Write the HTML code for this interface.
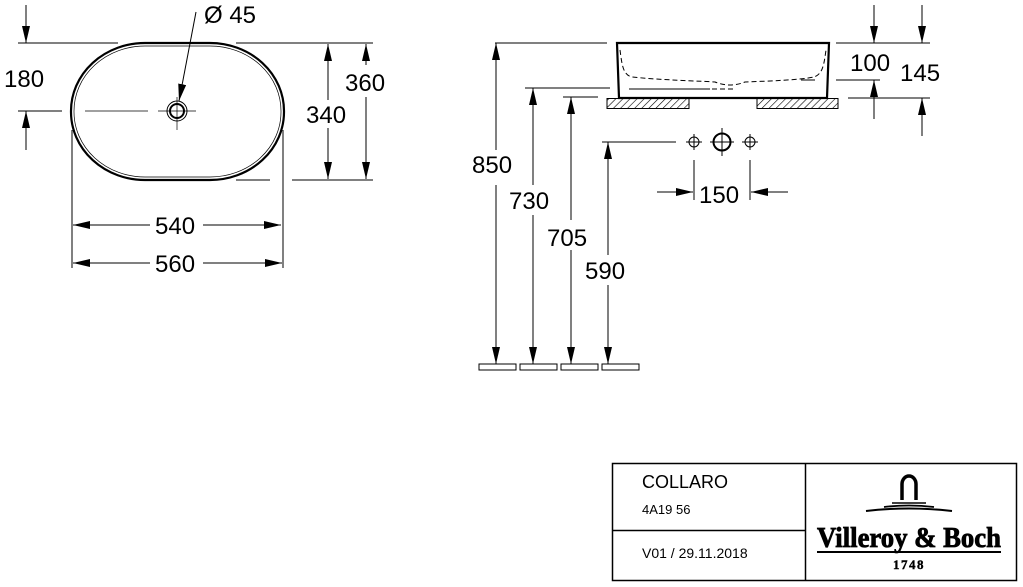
<!DOCTYPE html>
<html><head><meta charset="utf-8"><style>
html,body{margin:0;padding:0;background:#fff;}
svg{display:block;}
text{font-family:"Liberation Sans",Arial,sans-serif;fill:#000;}
</style></head><body>
<svg width="1023" height="587" viewBox="0 0 1023 587" xmlns="http://www.w3.org/2000/svg">
<defs>
<marker id="b" markerWidth="18" markerHeight="8" refX="17" refY="4" orient="auto-start-reverse" markerUnits="userSpaceOnUse">
<path d="M0,0 L17,4 L0,8 Z" fill="#000"/>
</marker>
<pattern id="h" width="5" height="5" patternUnits="userSpaceOnUse" patternTransform="rotate(45)">
<line x1="0" y1="0" x2="0" y2="5" stroke="#000" stroke-width="1.2"/>
</pattern>
</defs>
<g stroke="#000" stroke-width="1" fill="none">
<rect x="71" y="43" width="213" height="137" rx="74" ry="68" stroke-width="2.2"/>
<rect x="74" y="46" width="207" height="131" rx="71" ry="65" stroke-width="0.7"/>
<circle cx="177" cy="111" r="10" stroke-width="1"/>
<circle cx="177" cy="111" r="7" stroke-width="2"/>
<line x1="158" y1="111" x2="196" y2="111" stroke-width="0.7"/>
<line x1="177" y1="97" x2="177" y2="130" stroke-width="0.7"/>
<line x1="85" y1="111" x2="148" y2="111" stroke-width="0.8"/>
<line x1="18" y1="111" x2="62" y2="111"/>
<line x1="18" y1="43" x2="118" y2="43"/>
<line x1="26" y1="5" x2="26" y2="43" marker-end="url(#b)"/>
<line x1="26" y1="150" x2="26" y2="111" marker-end="url(#b)"/>
<line x1="196" y1="12" x2="179" y2="101" marker-end="url(#b)"/>
<line x1="236" y1="43" x2="373" y2="43"/>
<line x1="236" y1="180" x2="270" y2="180"/>
<line x1="292" y1="180" x2="373" y2="180"/>
<line x1="328" y1="100" x2="328" y2="44" marker-end="url(#b)"/>
<line x1="328" y1="128" x2="328" y2="179" marker-end="url(#b)"/>
<line x1="366" y1="65" x2="366" y2="44" marker-end="url(#b)"/>
<line x1="366" y1="97" x2="366" y2="179" marker-end="url(#b)"/>
<line x1="72" y1="130" x2="72" y2="268"/>
<line x1="283" y1="130" x2="283" y2="268"/>
<line x1="150" y1="225" x2="73" y2="225" marker-end="url(#b)"/>
<line x1="203" y1="225" x2="281" y2="225" marker-end="url(#b)"/>
<line x1="150" y1="263" x2="73" y2="263" marker-end="url(#b)"/>
<line x1="203" y1="263" x2="282" y2="263" marker-end="url(#b)"/>
<path d="M617,43 L829,43 L827,98 L619,98 Z" stroke-width="2.2"/>
<path d="M620,50 C622,65 623,75 632,77 C660,80 700,81 715,82 C725,86 735,86 745,82 C770,81 800,80 814,77 C823,74 824,64 826,50" stroke-dasharray="5,3" stroke-width="1"/>
<line x1="629" y1="89" x2="710" y2="89"/>
<line x1="712" y1="89" x2="733" y2="89" stroke-dasharray="5,3"/>
<line x1="801" y1="80" x2="815" y2="80"/>
<rect x="607" y="98.5" width="82" height="10" fill="url(#h)"/>
<rect x="757" y="98.5" width="81" height="10" fill="url(#h)"/>
<line x1="495" y1="43" x2="607" y2="43"/>
<line x1="525" y1="88" x2="610" y2="88"/>
<line x1="563" y1="97" x2="598" y2="97"/>
<line x1="602" y1="142" x2="676" y2="142"/>
<line x1="496" y1="150" x2="496" y2="43" marker-end="url(#b)"/>
<line x1="496" y1="185" x2="496" y2="364" marker-end="url(#b)"/>
<line x1="533" y1="185" x2="533" y2="88" marker-end="url(#b)"/>
<line x1="533" y1="215" x2="533" y2="364" marker-end="url(#b)"/>
<line x1="571" y1="220" x2="571" y2="97" marker-end="url(#b)"/>
<line x1="571" y1="250" x2="571" y2="364" marker-end="url(#b)"/>
<line x1="608" y1="255" x2="608" y2="142" marker-end="url(#b)"/>
<line x1="608" y1="285" x2="608" y2="364" marker-end="url(#b)"/>
<rect x="479" y="364" width="37" height="6"/>
<rect x="520" y="364" width="37" height="6"/>
<rect x="561" y="364" width="37" height="6"/>
<rect x="602" y="364" width="37" height="6"/>
<circle cx="694" cy="142" r="5"/>
<line x1="686" y1="142" x2="702" y2="142"/><line x1="694" y1="134" x2="694" y2="150"/>
<circle cx="750" cy="142" r="5"/>
<line x1="742" y1="142" x2="758" y2="142"/><line x1="750" y1="134" x2="750" y2="150"/>
<circle cx="722" cy="142" r="8.5" stroke-width="2"/>
<line x1="710" y1="142" x2="734" y2="142"/><line x1="722" y1="128" x2="722" y2="156"/>
<line x1="694" y1="160" x2="694" y2="200"/>
<line x1="750" y1="160" x2="750" y2="200"/>
<line x1="657" y1="192" x2="693" y2="192" marker-end="url(#b)"/>
<line x1="788" y1="192" x2="751" y2="192" marker-end="url(#b)"/>
<line x1="836" y1="43" x2="930" y2="43"/>
<line x1="836" y1="80" x2="880" y2="80"/>
<line x1="848" y1="98" x2="930" y2="98"/>
<line x1="874" y1="5" x2="874" y2="43" marker-end="url(#b)"/>
<line x1="874" y1="119" x2="874" y2="80" marker-end="url(#b)"/>
<line x1="922" y1="5" x2="922" y2="43" marker-end="url(#b)"/>
<line x1="922" y1="136" x2="922" y2="98" marker-end="url(#b)"/>
<rect x="612.5" y="463.5" width="404" height="117" stroke-width="1.5"/>
<line x1="805.5" y1="463" x2="805.5" y2="581" stroke-width="1.5"/>
<line x1="612" y1="530.5" x2="805" y2="530.5" stroke-width="1.5"/>
<path d="M902,500 L902,484 A7,8 0 0 1 916,484 L916,500" stroke-width="3.5"/>
<line x1="892" y1="503" x2="926" y2="503" stroke-width="1.5"/>
<path d="M884,507 Q909,504 934,507" stroke-width="1.8"/>
<path d="M866,511 Q909,506 952,511" stroke-width="2"/>
<line x1="817" y1="552" x2="1001" y2="552" stroke-width="2"/>
</g>
<g font-size="24">
<text x="4" y="87">180</text>
<text x="204" y="23">Ø 45</text>
<text x="306" y="123">340</text>
<text x="345" y="91">360</text>
<text x="155" y="234">540</text>
<text x="155" y="272">560</text>
<text x="472" y="173">850</text>
<text x="509" y="209">730</text>
<text x="547" y="246">705</text>
<text x="585" y="279">590</text>
<text x="699" y="203">150</text>
<text x="850" y="71">100</text>
<text x="900" y="81">145</text>
</g>
<text x="642" y="488" font-size="18">COLLARO</text>
<text x="642" y="514" font-size="13">4A19 56</text>
<text x="642" y="558" font-size="14">V01 / 29.11.2018</text>
<text x="909" y="547" font-size="28" font-weight="bold" text-anchor="middle" textLength="184" lengthAdjust="spacingAndGlyphs" stroke="#000" stroke-width="0.8" style="font-family:'Liberation Serif',serif">Villeroy &amp; Boch</text>
<text x="909" y="569" font-size="13" font-weight="bold" text-anchor="middle" letter-spacing="1.5" stroke="#000" stroke-width="0.4" style="font-family:'Liberation Serif',serif">1748</text>
</svg>
</body></html>
